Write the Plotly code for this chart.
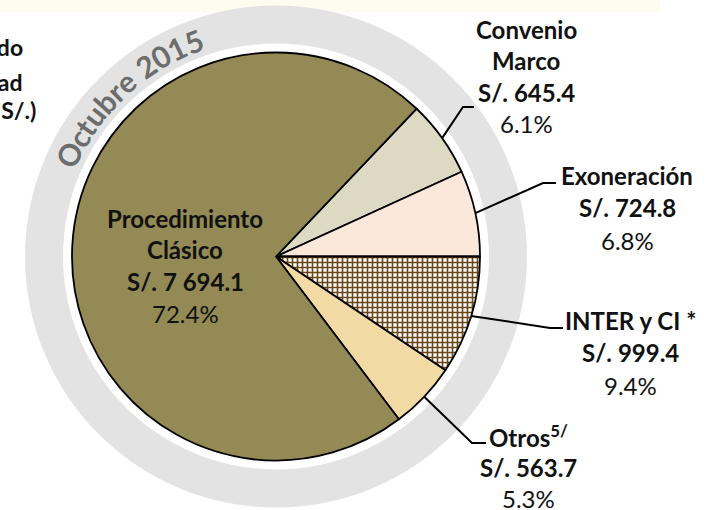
import math
import plotly.graph_objects as go

W, H = 715, 510

# ---------------- data ----------------
categories = ["Convenio Marco", "Exoneración", "INTER y CI *", "Otros", "Procedimiento Clásico"]
label_lines = [["Convenio", "Marco"], ["Exoneración"], ["INTER y CI *"], ["Otros<sup>5/</sup>"], ["Procedimiento", "Clásico"]]
values = [645.4, 724.8, 999.4, 563.7, 7694.1]
period_text = "Octubre 2015"
title_lines = ["Monto adjudicado", "por modalidad", "(Millones de S/.)"]

# ---------------- styles ----------------
colors = ["#DDD9C3", "#FCE8DA", "#D4B073", "#F2DAA4", "#938A55"]
patterns = ["", "", "+", "", ""]
FONT = "Lato"
total = sum(values)


def money(v):
    return "S/. " + f"{v:,.1f}".replace(",", " ")


pcts = [f"{v / total * 100:.1f}%" for v in values]


def px(x, y):
    return x / W, 1 - y / H


# pie geometry (pixels)
CX, CY, R = 276, 256.5, 204
R_IN, R_OUT = 213, 251
rotation = 90 - (values[0] + values[1]) / total * 360

fig = go.Figure()

# grey ring
fig.add_trace(go.Pie(
    values=[1], sort=False, hole=R_IN / R_OUT,
    marker=dict(colors=["#E3E3E3"], line=dict(width=0)),
    textinfo="none", hoverinfo="skip", showlegend=False,
    domain=dict(x=[(CX - R_OUT) / W, (CX + R_OUT) / W],
                y=[1 - (CY + R_OUT) / H, 1 - (CY - R_OUT) / H]),
))

# main pie
fig.add_trace(go.Pie(
    labels=categories, values=values, sort=False, direction="clockwise",
    rotation=rotation,
    marker=dict(colors=colors, line=dict(color="black", width=1.8),
                pattern=dict(shape=patterns, fgcolor="#6A4718", size=5, solidity=0.55)),
    textinfo="none", hoverinfo="skip", showlegend=False,
    domain=dict(x=[(CX - R) / W, (CX + R) / W],
                y=[1 - (CY + R) / H, 1 - (CY - R) / H]),
))

annotations = []
shapes = []

# top strip
shapes.append(dict(type="rect", xref="paper", yref="paper", x0=0, x1=660 / W,
                   y0=1 - 12 / H, y1=1, fillcolor="#FDFCEE", line=dict(width=0), layer="below"))

# label blocks: (center x, first line y, line gap)
blocks = [(526, 29, 31.5), (627, 175, 32.5), (630, 320, 32.5), (528, 436, 31), (185, 218, 31.7)]
for i, (bx, by, gap) in enumerate(blocks):
    lines = [f"<b>{t}</b>" for t in label_lines[i]] + [f"<b>{money(values[i])}</b>", pcts[i]]
    col = "#111111"
    for j, t in enumerate(lines):
        x, y = px(bx, by + j * gap)
        annotations.append(dict(x=x, y=y, xref="paper", yref="paper", text=t, showarrow=False,
                                xanchor="center", yanchor="middle",
                                font=dict(family=FONT, size=24, color=col)))

# leader lines (start at slice mid-angle on the pie edge)
elbows = [((463, 107), (474, 107)), ((543, 183), (556, 183)), ((550, 328), (563, 328)),
          ((472, 443), (486, 443))]
cum = 0
for i, v in enumerate(values):
    mid = rotation + (cum + v / 2) / total * 360
    cum += v
    if i >= len(elbows):
        continue
    sx = CX + R * math.sin(math.radians(mid))
    sy = CY - R * math.cos(math.radians(mid))
    pts = [(sx, sy)] + list(elbows[i])
    path = "M " + " L ".join(f"{px(a, b)[0]},{px(a, b)[1]}" for a, b in pts)
    shapes.append(dict(type="path", xref="paper", yref="paper", path=path,
                       line=dict(color="black", width=2)))

# curved period text on the ring
cw = {"O": 775, "c": 480, "t": 345, "u": 570, "b": 580, "r": 380, "e": 530, " ": 250,
      "2": 580, "0": 580, "1": 580, "5": 580}
centers = []
acc = 0
for ch in period_text:
    w = cw.get(ch, 550)
    centers.append(acc + w / 2)
    acc += w
a0, a1 = -63.9, -21.0
RT = 231
for ch, c in zip(period_text, centers):
    if ch == " ":
        continue
    f = (c - centers[0]) / (centers[-1] - centers[0])
    a = a0 + f * (a1 - a0)
    x = CX + RT * math.sin(math.radians(a))
    y = CY - RT * math.cos(math.radians(a))
    xx, yy = px(x, y)
    annotations.append(dict(x=xx, y=yy, xref="paper", yref="paper", text=f"<b>{ch}</b>",
                            showarrow=False, xanchor="center", yanchor="middle", textangle=a,
                            font=dict(family=FONT, size=30, color="#6D6D6D")))

# left (cut-off) title
title_pos = [(25, 46.5), (25, 81.5), (38, 109.5)]
for t, (tx, ty) in zip(title_lines, title_pos):
    x, y = px(tx, ty)
    annotations.append(dict(x=x, y=y, xref="paper", yref="paper", text=f"<b>{t}</b>",
                            showarrow=False, xanchor="right", yanchor="middle",
                            font=dict(family=FONT, size=23, color="#111111")))

fig.update_layout(width=W, height=H, margin=dict(l=0, r=0, t=0, b=0),
                  paper_bgcolor="white", plot_bgcolor="white", showlegend=False,
                  annotations=annotations, shapes=shapes)

fig.write_html("out.html", config={"displayModeBar": False},
               post_script="document.body.style.margin='0px';document.body.style.overflow='hidden';")
